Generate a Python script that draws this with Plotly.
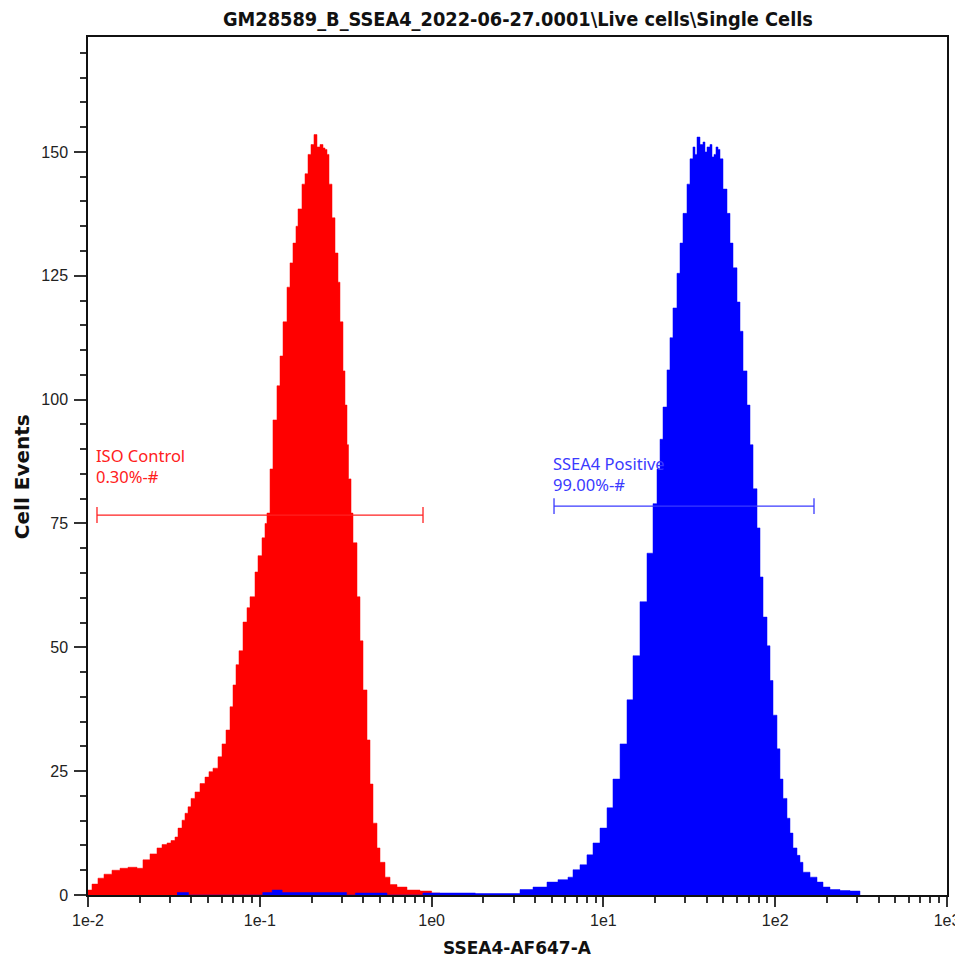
import math
import plotly.graph_objects as go

# ---------------- data ----------------
# Red histogram (ISO control): bin left edges (SSEA4-AF647-A) and cell events
red_x = [0.01000, 0.01055, 0.01143, 0.01239, 0.01379, 0.01536, 0.01709, 0.01929, 0.02089, 0.02296,
         0.02521, 0.02696, 0.02884, 0.03041, 0.03209, 0.03341, 0.03525, 0.03669, 0.03821, 0.03977,
         0.04195, 0.04486, 0.04797, 0.05060, 0.05339, 0.05709, 0.06026, 0.06357, 0.06708, 0.06982,
         0.07269, 0.07566, 0.07984, 0.08423, 0.08770, 0.09378, 0.09761, 0.1030, 0.1072, 0.1101,
         0.1147, 0.1193, 0.1259, 0.1311, 0.1365, 0.1440, 0.1499, 0.1560, 0.1624, 0.1669,
         0.1760, 0.1833, 0.1908, 0.1986, 0.2067, 0.2152, 0.2241, 0.2333, 0.2396, 0.2461,
         0.2528, 0.2632, 0.2740, 0.2852, 0.2929, 0.3049, 0.3132, 0.3218, 0.3283, 0.3396,
         0.3487, 0.3679, 0.3830, 0.3988, 0.4207, 0.4380, 0.4559, 0.4810, 0.5007, 0.5355,
         0.5728, 0.6290, 0.7190, 0.8560, 1.0000, 1.1190]
red_y = [1.0, 2.2, 3.4, 4.2, 5.0, 5.4, 5.6, 5.4, 7.1, 8.3,
         9.5, 10.2, 10.5, 11.0, 11.7, 13.5, 15.1, 16.5, 17.8, 19.5,
         20.8, 22.5, 23.8, 24.9, 25.6, 27.9, 30.5, 33.3, 38.0, 42.4,
         46.5, 49.3, 55.1, 58.0, 60.2, 65.2, 68.5, 72.1, 75.0, 77.1,
         86.0, 95.9, 102.8, 108.8, 115.7, 122.7, 127.6, 131.6, 135.0, 138.5,
         143.5, 145.6, 149.5, 151.5, 153.5, 151.0, 151.5, 150.8, 150.5, 149.5,
         143.5, 136.7, 129.6, 123.7, 115.7, 105.8, 98.9, 90.9, 84.0, 77.1,
         71.1, 60.2, 51.3, 41.4, 31.3, 22.4, 14.5, 9.5, 6.6, 3.6,
         2.1, 1.6, 1.0, 0.8, 0.4, 0.0]

# Blue histogram (SSEA4 stained)
blue_x = [0.0330, 0.0385, 0.1040, 0.1180, 0.1350, 0.3200, 0.3600, 0.5500, 0.8900, 1.800,
          2.501, 3.270, 3.893, 4.695, 5.441, 6.221, 6.654, 7.307, 8.025, 8.700,
          9.555, 10.50, 11.37, 12.50, 13.72, 14.87, 16.33, 17.94, 19.44, 20.51,
          21.36, 22.23, 23.45, 24.41, 25.41, 26.81, 27.92, 29.06, 30.66, 31.92,
          33.22, 34.13, 35.06, 36.49, 37.99, 39.02, 40.09, 41.73, 42.86, 44.03,
          45.22, 46.45, 47.71, 49.67, 52.41, 54.56, 56.80, 59.93, 62.39, 64.96,
          68.53, 71.35, 74.28, 78.37, 81.58, 84.93, 89.60, 93.27, 97.10, 102.4,
          106.6, 111.0, 117.1, 121.9, 126.9, 133.9, 139.4, 145.1, 159.5, 175.1,
          189.8, 208.4, 238.4, 272.5, 311.5]
blue_y = [0.5, 0.0, 0.5, 1.0, 0.5, 0.0, 0.4, 0.0, 0.4, 0.3,
          0.3, 1.1, 1.6, 2.6, 3.1, 3.6, 5.1, 6.1, 8.1, 10.5,
          13.5, 17.6, 23.4, 30.5, 39.4, 48.3, 59.2, 69.0, 79.0, 86.0,
          92.0, 98.5, 106.0, 112.5, 118.5, 125.5, 131.6, 137.6, 143.5, 148.6,
          151.0, 149.5, 153.0, 151.5, 152.0, 150.0, 151.0, 151.5, 149.0, 149.5,
          151.0, 150.5, 148.6, 142.5, 137.6, 131.6, 126.6, 119.7, 113.8, 105.8,
          98.9, 90.9, 82.0, 74.1, 64.2, 56.1, 50.3, 43.3, 36.3, 29.5,
          23.4, 19.5, 15.5, 12.5, 9.5, 8.0, 6.6, 4.6, 3.6, 2.6,
          1.6, 1.1, 0.9, 0.8, 0.0]

# Gates
gate_names = ["ISO Control", "SSEA4 Positive"]
gate_pct = ["0.30%-#", "99.00%-#"]
gate_low = [0.01128, 5.159]
gate_high = [0.8913, 168.2]
gate_level = [76.7, 78.5]
gate_colors = ["#ff2020", "#3a3aff"]

x_tickvals = [0.01, 0.1, 1, 10, 100, 1000]
x_ticktext = ["1e-2", "1e-1", "1e0", "1e1", "1e2", "1e3"]
y_tickvals = [0, 25, 50, 75, 100, 125, 150]

title_text = "GM28589_B_SSEA4_2022-06-27.0001\\Live cells\\Single Cells"
x_title = "SSEA4-AF647-A"
y_title = "Cell Events"

FONT = "Liberation Sans, Arial, sans-serif"
BOLD = "DejaVu Sans, Liberation Sans, sans-serif"
LABEL = "Noto Sans, Open Sans, sans-serif"

# ---------------- figure ----------------
fig = go.Figure()
fig.add_trace(go.Scatter(x=red_x, y=red_y, mode="lines", line=dict(color="#ff0000", width=0.5, shape="hv"),
                         fill="tozeroy", fillcolor="#ff0000", hoverinfo="skip", showlegend=False))
fig.add_trace(go.Scatter(x=blue_x, y=blue_y, mode="lines", line=dict(color="#0000ff", width=0.5, shape="hv"),
                         fill="tozeroy", fillcolor="#0000ff", hoverinfo="skip", showlegend=False))

cap = 1.6
label_offsets = [5.0, 1.6]
for name, pct, lo, hi, lvl, col, off in zip(gate_names, gate_pct, gate_low, gate_high, gate_level, gate_colors, label_offsets):
    fig.add_trace(go.Scatter(
        x=[lo, hi, None, lo, lo, None, hi, hi],
        y=[lvl, lvl, None, lvl - cap, lvl + cap, None, lvl - cap, lvl + cap],
        mode="lines", line=dict(color=col, width=1.3), hoverinfo="skip", showlegend=False))
    fig.add_annotation(x=math.log10(lo), y=lvl + off, xref="x", yref="y",
                       text=name + "<br>" + pct, showarrow=False, xanchor="left", yanchor="bottom",
                       align="left", xshift=-3,
                       font=dict(family=LABEL, size=16.5, color=col))

# axis titles as annotations
fig.add_annotation(x=0.5, y=0, xref="paper", yref="paper", yshift=-53, xanchor="center", yanchor="middle",
                   text="<b>" + x_title + "</b>", showarrow=False,
                   font=dict(family=BOLD, size=17, color="#111"))
fig.add_annotation(x=0, y=0.487, xref="paper", yref="paper", xshift=-66, xanchor="center", yanchor="middle",
                   text="<b>" + y_title + "</b>", showarrow=False, textangle=-90,
                   font=dict(family=BOLD, size=20, color="#111"))

minor_x = [m * 10 ** e for e in range(-2, 3) for m in range(2, 10)]

# the page body has an 8px margin, so the figure is 8px smaller than the window
fig.update_layout(
    width=955, height=951,
    margin=dict(l=80, r=16, t=29, b=64),
    paper_bgcolor="white", plot_bgcolor="white",
    title=dict(text="<b>" + title_text + "</b>", x=0.534, xanchor="center", y=0.9885, yanchor="middle",
               font=dict(family="DejaVu Sans Condensed, Liberation Sans Narrow, Liberation Sans, sans-serif",
                         size=19.8, color="#111")),
    xaxis=dict(type="log", range=[-2, 3], tickvals=x_tickvals, ticktext=x_ticktext, automargin=False,
               ticks="outside", ticklen=10, tickwidth=1.5, tickcolor="#333",
               minor=dict(tickvals=minor_x, ticks="outside", ticklen=6, tickwidth=1.5, tickcolor="#333"),
               showgrid=False, zeroline=False, showline=True, linecolor="#111", linewidth=1.5, mirror=True,
               tickfont=dict(family=FONT, size=16, color="#222")),
    yaxis=dict(range=[0, 173.2], tickvals=y_tickvals, automargin=False,
               ticks="outside", ticklen=12, tickwidth=1.5, tickcolor="#333", ticklabelstandoff=3,
               minor=dict(dtick=5, ticks="outside", ticklen=6, tickwidth=1.5, tickcolor="#333"),
               showgrid=False, zeroline=False, showline=True, linecolor="#111", linewidth=1.5, mirror=True,
               tickfont=dict(family=FONT, size=16, color="#222")),
)

fig.write_html("out.html")
